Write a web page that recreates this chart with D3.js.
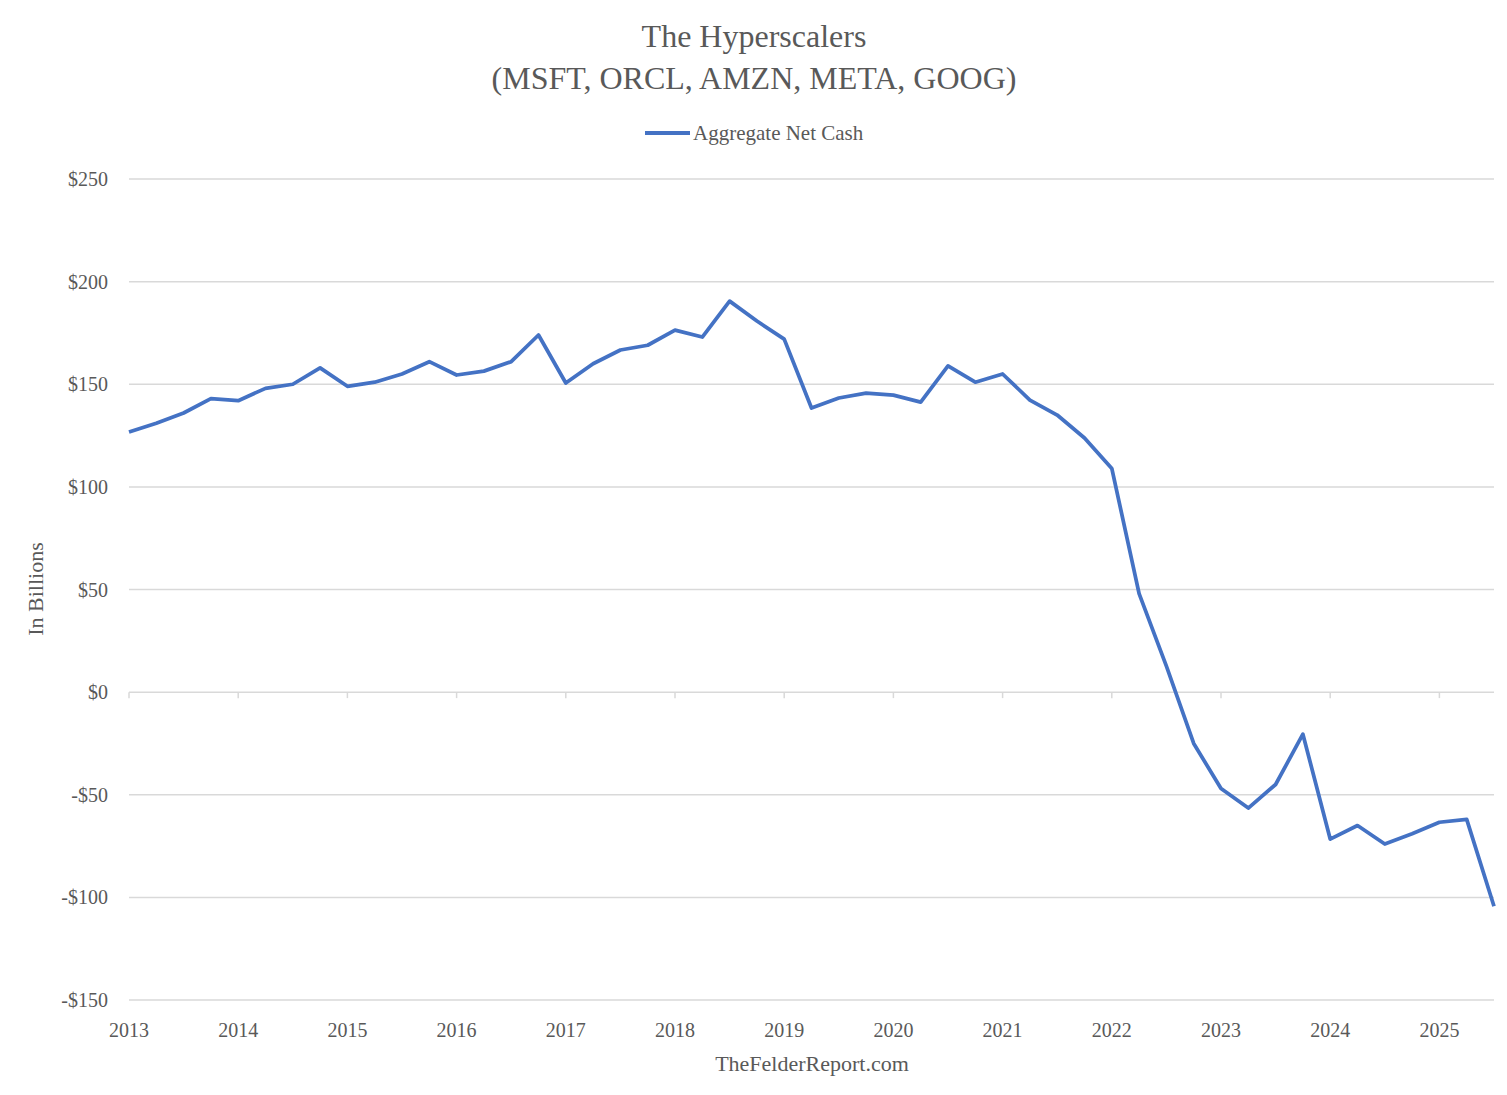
<!DOCTYPE html>
<html><head><meta charset="utf-8">
<script src="https://cdn.jsdelivr.net/npm/d3@7"></script>
<style>body{margin:0;background:#fff;} svg{display:block;}</style>
</head><body>
<script>
const startYear = 2013;
const quartersPerYear = 4;
const netCash = [126.7,131,136,143,142,148,150,158,149,151,155,161,154.5,156.4,161,174,150.6,160,166.7,169,176.4,173,190.5,180.8,172,138.4,143.3,145.7,144.7,141.3,158.9,151,155,142.3,135,123.8,109,48,12.7,-25,-47,-56.5,-45,-20.5,-71.6,-65,-74,-69,-63.4,-62,-104.3];
const yTicks = [-150,-100,-50,0,50,100,150,200,250];
const xTicks = [2013,2014,2015,2016,2017,2018,2019,2020,2021,2022,2023,2024,2025];
const titleLines = ["The Hyperscalers","(MSFT, ORCL, AMZN, META, GOOG)"];
const seriesName = "Aggregate Net Cash";
const yTitle = "In Billions";
const xTitle = "TheFelderReport.com";

const W=1507,H=1095;
const font = "'Liberation Serif', 'DejaVu Serif', serif";
const txt = "#595959";
const svg = d3.select("body").append("svg").attr("width",W).attr("height",H);
const x = d3.scaleLinear().domain([2013,2025.5]).range([129,1494]);
const y = d3.scaleLinear().domain([-150,250]).range([1000,179]);

// gridlines
svg.append("g").selectAll("line").data(yTicks).join("line")
  .attr("x1",x(2013)).attr("x2",x(2025.5)).attr("y1",d=>y(d)).attr("y2",d=>y(d))
  .attr("stroke","#d9d9d9").attr("stroke-width",1.5);
// y labels
const fmt = d => (d<0?"-$":"$")+Math.abs(d);
svg.append("g").selectAll("text").data(yTicks).join("text")
  .attr("x",108).attr("y",d=>y(d)).attr("dy","0.35em").attr("text-anchor","end")
  .attr("font-family",font).attr("font-size",20).attr("fill",txt).text(fmt);
// x ticks on zero line
svg.append("g").selectAll("line").data(xTicks).join("line")
  .attr("x1",d=>x(d)).attr("x2",d=>x(d)).attr("y1",y(0)).attr("y2",y(0)+6)
  .attr("stroke","#d9d9d9").attr("stroke-width",1.5);
svg.append("g").selectAll("text").data(xTicks).join("text")
  .attr("x",d=>x(d)).attr("y",1037).attr("text-anchor","middle")
  .attr("font-family",font).attr("font-size",20).attr("fill",txt).text(d=>d);

// line
const pts = netCash.map((v,i)=>[startYear+i/quartersPerYear,v]);
svg.append("path").datum(pts)
  .attr("d",d3.line().x(d=>x(d[0])).y(d=>y(d[1])))
  .attr("fill","none").attr("stroke","#4472c4").attr("stroke-width",3.75)
  .attr("stroke-linejoin","round");

// title
svg.append("text").attr("x",754).attr("y",47).attr("text-anchor","middle")
  .attr("font-family",font).attr("font-size",32).attr("fill",txt).text(titleLines[0]);
svg.append("text").attr("x",754).attr("y",89).attr("text-anchor","middle")
  .attr("font-family",font).attr("font-size",32).attr("fill",txt).text(titleLines[1]);
// legend
svg.append("line").attr("x1",645).attr("x2",690).attr("y1",133).attr("y2",133)
  .attr("stroke","#4472c4").attr("stroke-width",4);
svg.append("text").attr("x",693).attr("y",140)
  .attr("font-family",font).attr("font-size",21).attr("fill",txt).text(seriesName);
// axis titles
svg.append("text").attr("transform","translate(43,589) rotate(-90)").attr("text-anchor","middle")
  .attr("font-family",font).attr("font-size",22).attr("fill",txt).text(yTitle);
svg.append("text").attr("x",812).attr("y",1071).attr("text-anchor","middle")
  .attr("font-family",font).attr("font-size",22).attr("fill",txt).text(xTitle);
</script>
</body></html>
